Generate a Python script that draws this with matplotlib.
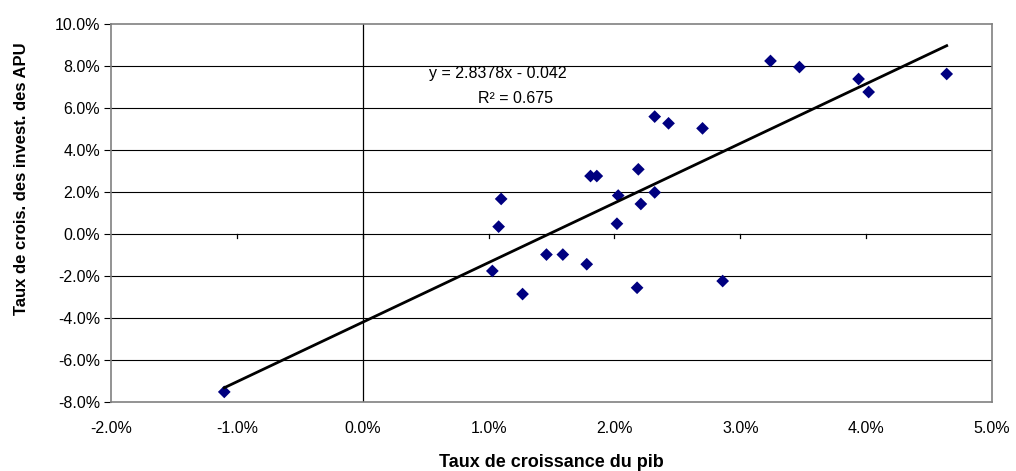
import matplotlib.pyplot as plt
import numpy as np
from matplotlib.ticker import FuncFormatter, MultipleLocator

plt.rcParams['font.family'] = ['Liberation Sans', 'DejaVu Sans']

# taux de croissance du pib (%) et taux de croissance des invest. des APU (%)
pib = [-1.10, 1.03, 1.08, 1.10, 1.27, 1.46, 1.59, 1.78, 1.81, 1.86,
       2.02, 2.03, 2.18, 2.19, 2.21, 2.32, 2.32, 2.43, 2.70, 2.86,
       3.24, 3.47, 3.94, 4.02, 4.64]
apu = [-7.52, -1.76, 0.35, 1.67, -2.86, -0.98, -0.98, -1.44, 2.76, 2.76,
       0.49, 1.83, -2.56, 3.08, 1.43, 1.98, 5.59, 5.27, 5.03, -2.24,
       8.24, 7.95, 7.38, 6.76, 7.62]

# courbe de tendance (Excel)
pente = 2.8378
const = -0.042
r2 = 0.675

x = np.array(pib) / 100
y = np.array(apu) / 100

fig = plt.figure(figsize=(10.16, 4.71), dpi=100)
ax = fig.add_axes([111/1016, 1 - 402/471, 881/1016, 378/471])

# quadrillage horizontal
for g in np.arange(-0.06, 0.1, 0.02):
    ax.axhline(g, color='black', lw=0.8, zorder=1)
ax.axvline(0, color='black', lw=0.9, zorder=1)

# ticks sur l'axe y=0
for t in np.arange(-0.01, 0.05, 0.01):
    ax.plot([t, t], [0, -0.002], color='black', lw=0.9, zorder=1,
            clip_on=False)

ax.scatter(x, y, marker='D', s=42, color='#000080', zorder=3,
           edgecolors='none')

xt = np.array([min(x), max(x)])
ax.plot(xt, pente * xt + const, color='black', lw=2.0, zorder=4)

ax.text(0.0107, 0.0762, f"y = {pente}x - {abs(const)}", ha='center',
        va='center', fontsize=11.5)
ax.text(0.0121, 0.0643, f"R² = {r2}", ha='center', va='center',
        fontsize=11.5)

ax.set_xlim(-0.02, 0.05)
ax.set_ylim(-0.08, 0.10)
ax.xaxis.set_major_locator(MultipleLocator(0.01))
ax.yaxis.set_major_locator(MultipleLocator(0.02))
pct = FuncFormatter(lambda v, p: f"{v*100:.1f}%")
ax.xaxis.set_major_formatter(pct)
ax.yaxis.set_major_formatter(pct)
ax.tick_params(axis='x', length=0, pad=14, labelsize=11.5)
ax.tick_params(axis='y', length=5, direction='out', labelsize=11.5, pad=3)

for s in ax.spines.values():
    s.set_color('#808080')
    s.set_linewidth(1.2)

ax.set_xlabel("Taux de croissance du pib", fontsize=13, fontweight='bold')
ax.xaxis.set_label_coords(0.5, -0.137)
ax.set_ylabel("Taux de crois. des invest. des APU", fontsize=12,
              fontweight='bold')
ax.yaxis.set_label_coords(-0.093, 0.59)

fig.savefig("out.png", dpi=100)
